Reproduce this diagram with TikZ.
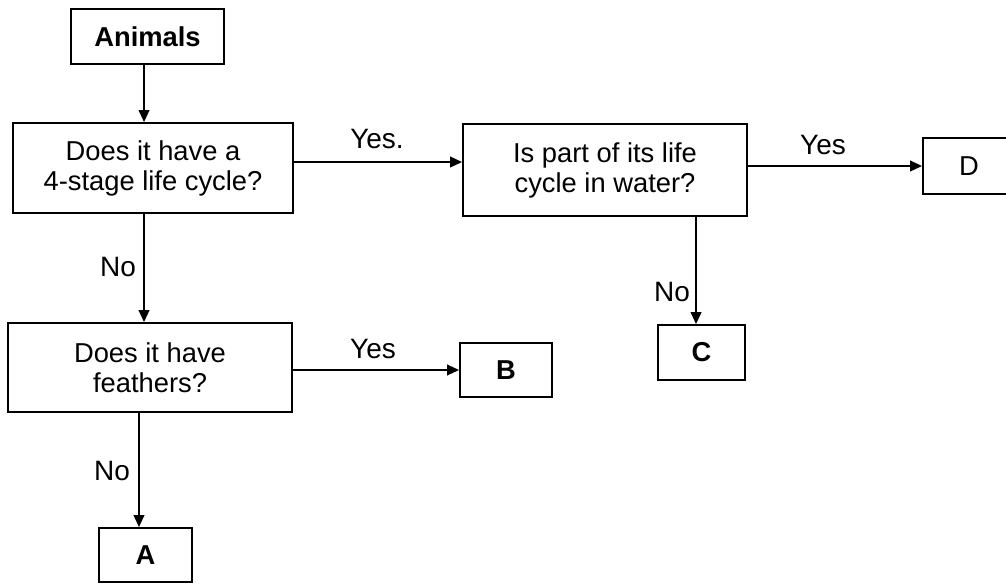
\documentclass[tikz,border=0pt]{standalone}
\usepackage{fontspec}
\setmainfont{Liberation Sans}
\usetikzlibrary{arrows.meta}
\begin{document}
\begin{tikzpicture}[x=0.75pt,y=-0.75pt,
  box/.style={draw,line width=1.4pt,inner sep=0pt,align=center,
    font=\fontsize{20.5}{22.5}\selectfont},
  lbl/.style={inner sep=0pt,font=\fontsize{21}{23}\selectfont},
  arr/.style={line width=1.4pt,-{Triangle[length=9pt,width=8pt]}},
  ln/.style={line width=1.4pt}]
\useasboundingbox (0,0) rectangle (1006,586);
\node[box,minimum width=114.75pt,minimum height=41.25pt,font=\fontsize{20.5}{22.5}\selectfont\bfseries] (an) at (147.5,36.5) {Animals};
\node[box,minimum width=210pt,minimum height=67.5pt] (q1) at (153,168) {Does it have a\\4-stage life cycle?};
\node[box,minimum width=213pt,minimum height=69pt] (q2) at (605,170) {Is part of its life\\cycle in water?};
\node[box,minimum width=69pt,minimum height=42pt] (d) at (969,166) {D};
\node[box,minimum width=213pt,minimum height=66.75pt] (q3) at (150,367.5) {Does it have\\feathers?};
\node[box,minimum width=69pt,minimum height=40.5pt,font=\fontsize{20.5}{22.5}\selectfont\bfseries] (b) at (506,370) {B};
\node[box,minimum width=65.25pt,minimum height=41.25pt,font=\fontsize{20.5}{22.5}\selectfont\bfseries] (c) at (701.5,352.5) {C};
\node[box,minimum width=69.75pt,minimum height=40.5pt,font=\fontsize{20.5}{22.5}\selectfont\bfseries] (a) at (145.5,555) {A};
% connectors
\draw[arr] ([xshift=-2.6pt]an.south) -- ([xshift=-2.6pt]an.south |- q1.north);
\draw[arr] ([yshift=4.5pt]q1.east) -- ([yshift=4.5pt]q1.east -| q2.west);
\draw[arr] (q2.east |- d.west) -- (d.west);
\draw[arr] ([xshift=-6.75pt]q1.south) -- ([xshift=-6.75pt]q1.south |- q3.north);
\draw[arr] (q3.east |- b.west) -- (b.west);
\draw[arr] ([xshift=-4.9pt]a.north |- q3.south) -- ([xshift=-4.9pt]a.north);
\draw[arr] ([xshift=-4.1pt]c.north |- q2.south) -- ([xshift=-4.1pt]c.north);
% labels
\node[lbl] (l1) at (377,139) {Yes.};
\node[lbl] (l2) at (823,145) {Yes};
\node[lbl] (l3) at (373,349) {Yes};
\node[lbl] (l4) at (118,267) {No};
\node[lbl] (l5) at (112,471) {No};
\node[lbl] (l6) at (672,292) {No};
\end{tikzpicture}
\end{document}
